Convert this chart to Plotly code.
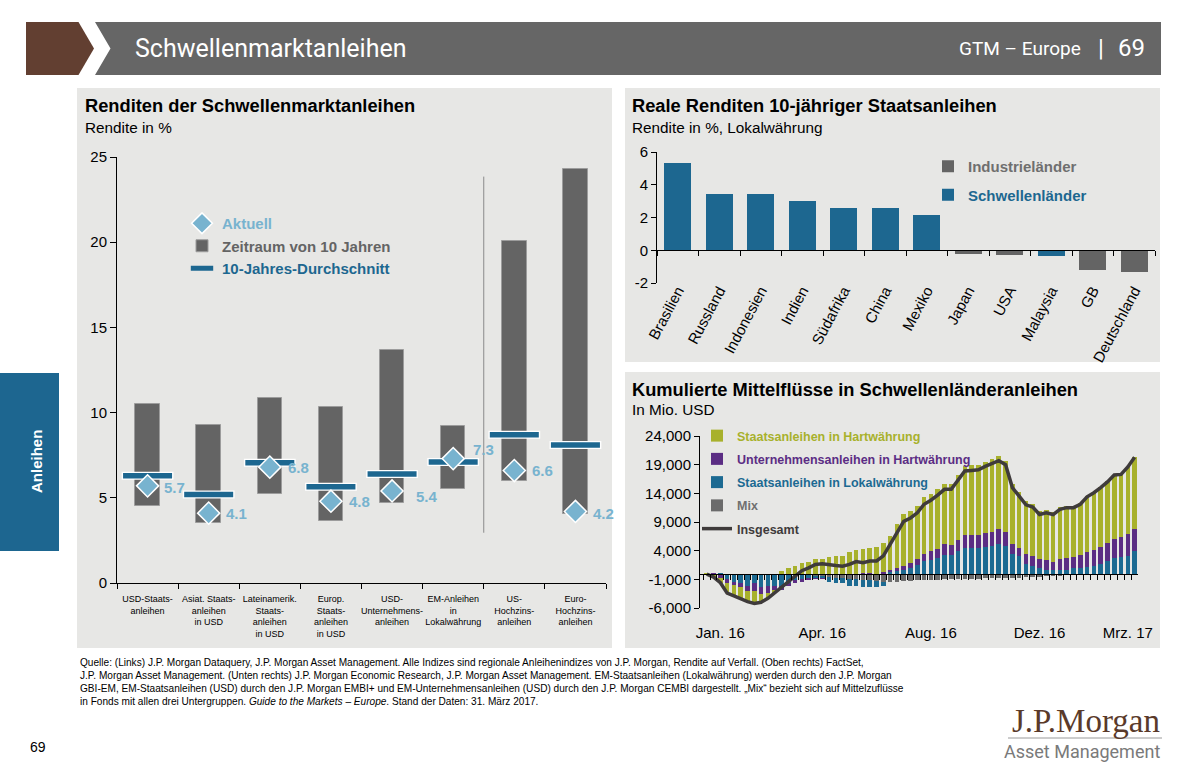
import plotly.graph_objects as go
import pandas as pd

# ---------------- data ----------------
LEFT_CATS = ["USD-Staats-<br>anleihen", "Asiat. Staats-<br>anleihen<br>in USD",
             "Lateinamerik.<br>Staats-<br>anleihen<br>in USD", "Europ.<br>Staats-<br>anleihen<br>in USD",
             "USD-<br>Unternehmens-<br>anleihen", "EM-Anleihen<br>in<br>Lokalwährung",
             "US-<br>Hochzins-<br>anleihen", "Euro-<br>Hochzins-<br>anleihen"]
RANGE_LOW = [4.5, 3.5, 5.2, 3.65, 4.7, 5.5, 6.0, 4.05]
RANGE_HIGH = [10.5, 9.3, 10.85, 10.35, 13.7, 9.2, 20.05, 24.3]
AVG_10Y = [6.3, 5.2, 7.05, 5.65, 6.4, 7.1, 8.7, 8.1]
CURRENT = [5.7, 4.1, 6.8, 4.8, 5.4, 7.3, 6.6, 4.2]

RR_COUNTRIES = ["Brasilien", "Russland", "Indonesien", "Indien", "Südafrika", "China", "Mexiko",
                "Japan", "USA", "Malaysia", "GB", "Deutschland"]
RR_VALUES = [5.3, 3.45, 3.45, 3.0, 2.58, 2.55, 2.15, -0.25, -0.32, -0.38, -1.18, -1.3]
RR_GROUP = ["EM", "EM", "EM", "EM", "EM", "EM", "EM", "DM", "DM", "EM", "DM", "DM"]

WEEKS = pd.date_range("2016-01-08", periods=64, freq="7D").strftime("%d.%m.%Y").tolist()
FLOW_HART = [-100, -400, -900, -1700, -1900, -2000, -1800, -2200, -1500, -900, -300, 500, 900, 1300, 1900, 2100,
             2500, 2600, 2900, 3000, 3000, 3800, 4200, 4200, 4400, 4600, 5100, 6000, 7700, 9000, 9100, 9200,
             9800, 10000, 10500, 10600, 10700, 11400, 12100, 12100, 12200, 12500, 12700, 12800, 12400, 10500, 9700, 9100,
             9200, 8400, 8800, 8700, 9100, 9100, 8900, 9000, 9800, 10100, 10500, 10800, 11200, 10900, 11700, 12500]
FLOW_UNTERN = [0, -200, -400, -700, -600, -800, -1000, -1400, -1200, -1200, -900, -600, -500, -400, -500, -400,
               -100, -100, 0, 0, 0, 0, 0, 100, 100, 0, 200, 300, 500, 700, 900, 1100,
               1300, 1500, 1600, 1900, 1700, 1800, 2300, 2300, 2300, 2300, 2400, 2600, 2500, 1800, 1500, 1800,
               1700, 1500, 1600, 1500, 1900, 2000, 2000, 2300, 2600, 2700, 2900, 3100, 3300, 3500, 3900, 3900]
FLOW_LOKAL = [0, 0, -300, -1000, -1400, -1600, -2100, -1600, -2300, -2200, -2100, -2100, -1600, -1100, -700, -500,
              -400, -300, -800, -900, -900, -1300, -1100, -1200, -1100, -1100, -800, 300, 500, 700, 1000, 1500,
              2200, 2400, 2700, 3200, 3300, 4000, 4400, 4500, 4500, 4700, 4900, 5100, 4800, 3400, 3000, 1700,
              1300, 1000, 700, 600, 600, 700, 900, 1000, 1200, 1400, 1700, 2200, 2700, 2900, 3000, 3900]
FLOW_MIX = [0, 0, 0, 0, 0, 0, 0, 0, 0, 0, 0, -100, -100, -100, -200, -200,
            -400, -500, -600, -700, -800, -900, -1000, -1100, -1200, -1300, -1400, -1500, -1400, -1300, -1300, -1200,
            -1200, -1100, -1100, -1000, -1000, -1000, -900, -900, -900, -800, -800, -800, -700, -700, -700, -600,
            -600, -600, -500, -500, -400, -300, -300, -200, -200, -100, -100, -100, 0, 0, 0, 0]
FLOW_TOTAL = [-100, -600, -1600, -3400, -3900, -4400, -4900, -5200, -5000, -4300, -3300, -2300, -1300, -300, 500, 1000,
              1600, 1700, 1500, 1400, 1300, 1600, 2100, 1900, 2200, 2200, 3100, 5100, 7300, 9100, 9700, 10600,
              12100, 12800, 13700, 14700, 14700, 16200, 17900, 18000, 18100, 18700, 19200, 19700, 19000, 15000, 13500, 12000,
              11600, 10300, 10600, 10300, 11200, 11500, 11500, 12100, 13400, 14100, 15000, 16000, 17200, 17300, 18600, 20300]
FLOW_TICKS = {2: "Jan. 16", 17: "Apr. 16", 33: "Aug. 16", 49: "Dez. 16", 62: "Mrz. 17"}
FLOW_YTICKS = [-6000, -1000, 4000, 9000, 14000, 19000, 24000]

# ---------------- styling ----------------
W, H = 1191, 770
def X(px): return px / W
def Y(py): return 1 - py / H

FONT = "Liberation Sans, Arial, sans-serif"
HEAD_FONT = "Roboto, Open Sans, sans-serif"
PANEL = "#E7E7E5"
GRAY_BAR = "#646464"
DARK_BLUE = "#1D6790"
LIGHT_BLUE = "#78B3CF"
OLIVE = "#A8B12C"
PURPLE = "#5B2D84"
BLUE_FLOW = "#1C6A92"
MIX_GRAY = "#6B6B6B"
LINE_DARK = "#3F3B3B"

def span(txt, col):
    return f'<span style="color:{col}"><b>{txt}</b></span>'

fig = go.Figure()

# ---- left chart ----
fig.add_trace(go.Bar(x=LEFT_CATS, y=[h - l for h, l in zip(RANGE_HIGH, RANGE_LOW)], base=RANGE_LOW,
                     width=0.4, marker=dict(color=GRAY_BAR, line=dict(color="#9c9c9c", width=1)),
                     name=span("Zeitraum von 10 Jahren", GRAY_BAR), legend="legend", legendrank=2,
                     xaxis="x", yaxis="y", hoverinfo="skip"))
fig.add_trace(go.Scatter(x=LEFT_CATS, y=AVG_10Y, mode="markers",
                         marker=dict(symbol="line-ew", size=37, color="white", line=dict(color="white", width=8)),
                         showlegend=False, xaxis="x", yaxis="y", hoverinfo="skip"))
fig.add_trace(go.Scatter(x=LEFT_CATS, y=AVG_10Y, mode="markers",
                         marker=dict(symbol="line-ew", size=35, color=DARK_BLUE, line=dict(color=DARK_BLUE, width=5.5)),
                         name=span("10-Jahres-Durchschnitt", DARK_BLUE), legend="legend", legendrank=3,
                         xaxis="x", yaxis="y", hoverinfo="skip"))
fig.add_trace(go.Scatter(x=LEFT_CATS, y=CURRENT, mode="markers",
                         marker=dict(symbol="diamond", size=17, color=LIGHT_BLUE, line=dict(color="white", width=1.5)),
                         name=span("Aktuell", LIGHT_BLUE), legend="legend", legendrank=1,
                         xaxis="x", yaxis="y", hoverinfo="skip"))

# ---- top right chart ----
for grp, col, label, rank in [("DM", GRAY_BAR, "Industrieländer", 1), ("EM", DARK_BLUE, "Schwellenländer", 2)]:
    xs = [c for c, g in zip(RR_COUNTRIES, RR_GROUP) if g == grp]
    ys = [v for v, g in zip(RR_VALUES, RR_GROUP) if g == grp]
    fig.add_trace(go.Bar(x=xs, y=ys, width=0.65, marker=dict(color=col, line=dict(width=0)),
                         name=span(label, "#6f6f6f" if grp == "DM" else DARK_BLUE),
                         legend="legend2", legendrank=rank, legendgroup=grp,
                         xaxis="x2", yaxis="y2", hoverinfo="skip"))

# ---- bottom right chart ----
for vals, col, label, txtcol, rank in [(FLOW_MIX, MIX_GRAY, "Mix", "#707070", 4),
                                        (FLOW_LOKAL, BLUE_FLOW, "Staatsanleihen in Lokalwährung", BLUE_FLOW, 3),
                                        (FLOW_UNTERN, PURPLE, "Unternehmensanleihen in Hartwährung", PURPLE, 2),
                                        (FLOW_HART, OLIVE, "Staatsanleihen in Hartwährung", OLIVE, 1)]:
    fig.add_trace(go.Bar(x=WEEKS, y=vals, width=0.68, marker=dict(color=col, line=dict(width=0)),
                         name=span(label, txtcol), legend="legend3", legendrank=rank, legendgroup=label,
                         xaxis="x3", yaxis="y3", hoverinfo="skip"))
fig.add_trace(go.Scatter(x=WEEKS, y=FLOW_TOTAL, mode="lines", line=dict(color=LINE_DARK, width=3.5),
                         name=span("Insgesamt", LINE_DARK), legend="legend3", legendrank=5, legendgroup="tot",
                         xaxis="x3", yaxis="y3", hoverinfo="skip"))

# ---------------- shapes ----------------
shapes = [
    dict(type="rect", xref="paper", yref="paper", x0=X(77), x1=X(612), y0=Y(648), y1=Y(88),
         fillcolor=PANEL, line=dict(width=0), layer="below"),
    dict(type="rect", xref="paper", yref="paper", x0=X(625), x1=X(1160), y0=Y(362), y1=Y(88),
         fillcolor=PANEL, line=dict(width=0), layer="below"),
    dict(type="rect", xref="paper", yref="paper", x0=X(625), x1=X(1160), y0=Y(648), y1=Y(372),
         fillcolor=PANEL, line=dict(width=0), layer="below"),
    dict(type="path", xref="paper", yref="paper",
         path=f"M{X(26)},{Y(22)} L{X(78.5)},{Y(22)} L{X(94)},{Y(48.5)} L{X(78.5)},{Y(75)} L{X(26)},{Y(75)} Z",
         fillcolor="#623F31", line=dict(width=0), layer="below"),
    dict(type="path", xref="paper", yref="paper",
         path=f"M{X(95)},{Y(22)} L{X(1161)},{Y(22)} L{X(1161)},{Y(75)} L{X(95)},{Y(75)} L{X(110.5)},{Y(48.5)} Z",
         fillcolor="#666666", line=dict(width=0), layer="below"),
    dict(type="rect", xref="paper", yref="paper", x0=0, x1=X(59), y0=Y(551), y1=Y(373),
         fillcolor="#1D6690", line=dict(width=0), layer="below"),
    dict(type="line", xref="paper", yref="paper", x0=X(1008), x1=X(1162), y0=Y(738), y1=Y(738),
         line=dict(color="#9a9a9a", width=1)),
    # separator between investment grade / high yield
    dict(type="line", xref="x", yref="y", x0=5.5, x1=5.5, y0=2.95, y1=23.85,
         line=dict(color="#8a8a8a", width=1)),
]

# ---------------- annotations ----------------
def txt(x, y, text, size, color="black", anchor="left", family=FONT, **kw):
    return dict(xref="paper", yref="paper", x=X(x), y=Y(y), text=text, showarrow=False,
                xanchor=anchor, yanchor="middle", font=dict(family=family, size=size, color=color), **kw)

ann = [
    txt(133, 49, "Schwellenmarktanleihen", 25, "white", family=HEAD_FONT),
    txt(1083, 49, "GTM – Europe", 19, "white", anchor="right", family=HEAD_FONT),
    txt(1101, 48, "|", 24, "white", anchor="center", family=HEAD_FONT),
    txt(1147, 48, "69", 24, "white", anchor="right", family=HEAD_FONT),
    txt(83, 106, "<b>Renditen der Schwellenmarktanleihen</b>", 18.3),
    txt(83, 127, "Rendite in %", 15.3),
    txt(630, 106, "<b>Reale Renditen 10-jähriger Staatsanleihen</b>", 18.3),
    txt(630, 127, "Rendite in %, Lokalwährung", 15.3),
    txt(630, 390, "<b>Kumulierte Mittelflüsse in Schwellenländeranleihen</b>", 18.3),
    txt(630, 410, "In Mio. USD", 15.3),
    txt(36, 462, "<b>Anleihen</b>", 15, "white", anchor="center", textangle=-90),
    txt(28, 747, "69", 14),
    txt(1162, 721, "J.P.Morgan", 33, "#5A3A2A", anchor="right", family="Liberation Serif, DejaVu Serif, serif"),
    txt(1162, 751, "Asset Management", 18, "#7a7a7a", anchor="right", family=HEAD_FONT),
    dict(xref="paper", yref="paper", x=X(78), y=Y(655), xanchor="left", yanchor="top", showarrow=False, align="left",
         font=dict(family=FONT, size=10.1, color="black"),
         text=("Quelle: (Links) J.P. Morgan Dataquery, J.P. Morgan Asset Management. Alle Indizes sind regionale Anleihenindizes von J.P. Morgan, Rendite auf Verfall. (Oben rechts) FactSet,<br>"
               "J.P. Morgan Asset Management. (Unten rechts) J.P. Morgan Economic Research, J.P. Morgan Asset Management. EM-Staatsanleihen (Lokalwährung) werden durch den J.P. Morgan<br>"
               "GBI-EM, EM-Staatsanleihen (USD) durch den J.P. Morgan EMBI+ und EM-Unternehmensanleihen (USD) durch den J.P. Morgan CEMBI dargestellt. „Mix“ bezieht sich auf Mittelzuflüsse<br>"
               "in Fonds mit allen drei Untergruppen. <i>Guide to the Markets – Europe</i>. Stand der Daten: 31. März 2017.")),
]
LABEL_SHIFTS = [(14, -2), (15, 0), (16, 0), (16, 0), (22, -6), (18, 9), (16, 0), (16, -2)]
for cat, val, (dx, dy) in zip(LEFT_CATS, CURRENT, LABEL_SHIFTS):
    ann.append(dict(xref="x", yref="y", x=cat, y=val, text=f"<b>{val:.1f}</b>", showarrow=False,
                    xanchor="left", yanchor="middle", xshift=dx, yshift=dy,
                    font=dict(family=FONT, size=15, color=LIGHT_BLUE)))

axis_common = dict(showgrid=False, zeroline=False, showline=True, linecolor="black", linewidth=1,
                   ticks="outside", tickcolor="black", ticklen=5, tickfont=dict(family=FONT, size=15, color="black"))

fig.update_layout(
    width=W, height=H, margin=dict(l=0, r=0, t=0, b=0, pad=0, autoexpand=False), autosize=False,
    paper_bgcolor="white", plot_bgcolor="rgba(0,0,0,0)",
    barmode="relative", bargap=0, showlegend=True,
    shapes=shapes, annotations=ann,
    xaxis=dict(domain=[X(117), X(606)], anchor="y", type="category", range=[-0.5, 7.5], tickson="boundaries",
               tickangle=0, ticklabelstandoff=7,
               **{**axis_common, "tickfont": dict(family=FONT, size=9, color="black")}),
    yaxis=dict(domain=[Y(583), Y(157)], anchor="x", range=[0, 25], tickvals=[0, 5, 10, 15, 20, 25], ticklen=6,
               **{k: v for k, v in axis_common.items() if k != "ticklen"}),
    xaxis2=dict(domain=[X(657), X(1155)], anchor="free", position=Y(250), type="category",
                categoryorder="array", categoryarray=RR_COUNTRIES, range=[-0.5, 11.5],
                tickson="boundaries", tickangle=-62, ticklabelstandoff=25, **axis_common),
    yaxis2=dict(domain=[Y(283), Y(152)], anchor="x2", range=[-2, 6], tickvals=[-2, 0, 2, 4, 6],
                ticktext=["-2", "0", "2", "4", "6"], **axis_common),
    xaxis3=dict(domain=[X(700), X(1138)], anchor="free", position=Y(574.3), type="category",
                range=[-1, 63.5], tickson="boundaries", tickmode="array", tickvals=WEEKS,
                ticktext=[FLOW_TICKS.get(i, "") for i in range(len(WEEKS))], ticklabelstandoff=45,
                tickangle=0, **axis_common),
    yaxis3=dict(domain=[Y(608), Y(436)], anchor="x3", range=[-6000, 24000], tickvals=FLOW_YTICKS,
                ticktext=[f"{v:,}" for v in FLOW_YTICKS], **axis_common),
    legend=dict(x=X(182), y=Y(207), xanchor="left", yanchor="top", bgcolor="rgba(0,0,0,0)",
                font=dict(family=FONT, size=15)),
    legend2=dict(x=X(928), y=Y(150), xanchor="left", yanchor="top", bgcolor="rgba(0,0,0,0)",
                 font=dict(family=FONT, size=15), tracegroupgap=6),
    legend3=dict(x=X(697), y=Y(421), xanchor="left", yanchor="top", bgcolor="rgba(0,0,0,0)",
                 font=dict(family=FONT, size=12.5), tracegroupgap=4),
)

fig.write_html("out.html", config={"displayModeBar": False},
               post_script="document.body.style.margin='0px';")
